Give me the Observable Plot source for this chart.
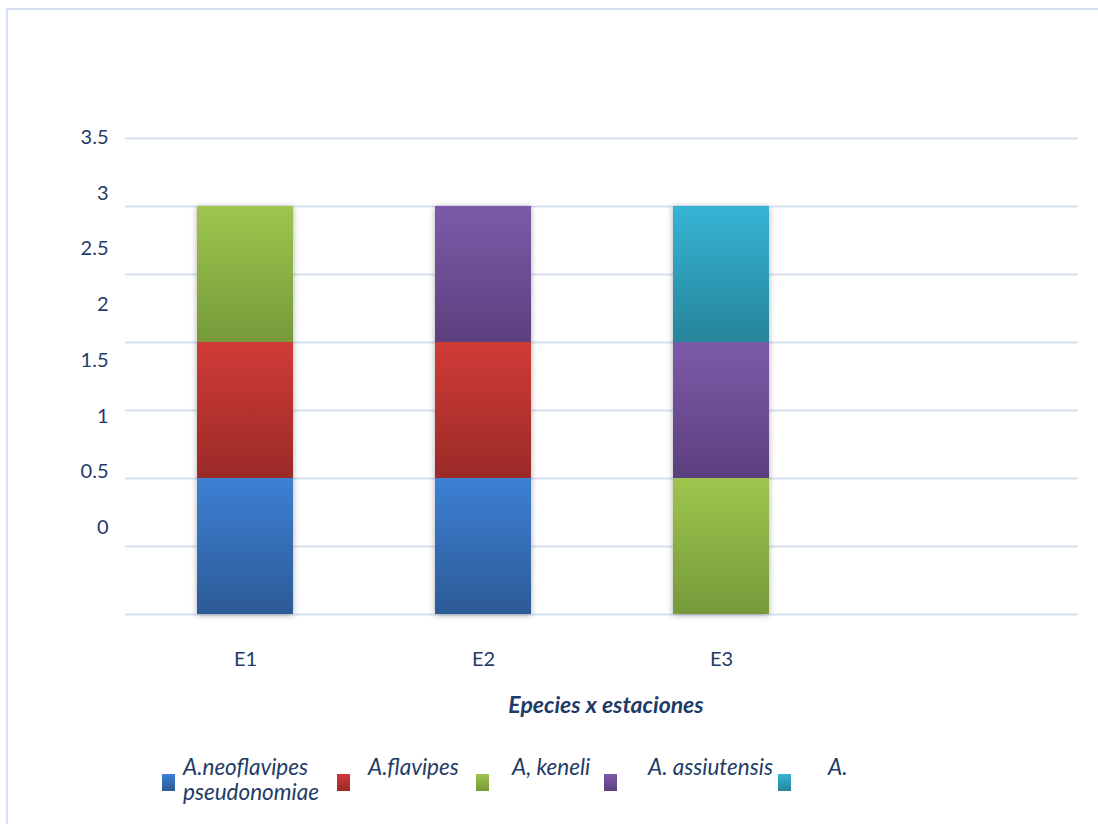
<!DOCTYPE html>
<html>
<head>
<meta charset="utf-8">
<script src="https://cdn.jsdelivr.net/npm/d3@7"></script>
<script src="https://cdn.jsdelivr.net/npm/@observablehq/plot@0.6"></script>
<style>
  html, body { margin: 0; padding: 0; background: #ffffff; }
  body { width: 1098px; height: 824px; overflow: hidden; position: relative; font-family: Lato, "Open Sans", sans-serif; }
  #frame { position: absolute; left: 6px; top: 8px; width: 1200px; height: 900px; border: 2px solid #d6e2f3; box-sizing: border-box; pointer-events: none; }
  #chart svg { display: block; }
  g[aria-label="bar"] { filter: drop-shadow(0px 1px 3px rgba(0,0,0,0.32)); }
  #legend { position: relative; width: 1098px; height: 84px; }
  .sw { position: absolute; width: 13px; height: 17px; top: 34px; }
  .lt { position: absolute; top: 14px; font-size: 22.5px; line-height: 25px; font-style: italic; color: #1f3b67; }
</style>
</head>
<body>
<div id="chart"></div>
<div id="legend"></div>
<div id="frame"></div>
<script>
// ---- data ----
const stations = ["E1", "E2", "E3"];
const species = ["A.neoflavipes pseudonomiae", "A.flavipes", "A, keneli", "A. assiutensis", "A."];
const neoflavipes = [1, 1, 0];
const flavipes    = [1, 1, 0];
const keneli      = [1, 0, 1];
const assiutensis = [0, 1, 1];
const aSp         = [0, 0, 1];
const yTicks = [0, 0.5, 1, 1.5, 2, 2.5, 3, 3.5];
const xTitle = "Epecies x estaciones";

// ---- styles ----
const topColors    = ["#3d80d4", "#d13b37", "#9ec54c", "#7d5aa9", "#37b4d6"];
const bottomColors = ["#2c5a95", "#9a2a27", "#76993a", "#5c3f7e", "#25859a"];
const textColor = "#1f3b67";

const seriesValues = [neoflavipes, flavipes, keneli, assiutensis, aSp];
const rows = [];
species.forEach((s, k) => {
  stations.forEach((st, i) => {
    const v = seriesValues[k][i];
    if (v > 0) rows.push({station: st, species: s, value: v, k});
  });
});

// y tick labels drift relative to gridlines in the reference
const labelDy = t => -87 + 12.3 * (t / 0.5);

const svg = Plot.plot({
  width: 1098,
  height: 740,
  marginLeft: 125,
  marginRight: 20,
  marginTop: 138,
  marginBottom: 126,
  x: {domain: [...stations, ""], paddingInner: 0.597, paddingOuter: 0.2985},
  y: {domain: [0, 3.5]},
  color: {type: "identity"},
  style: {fontFamily: "Lato, 'Open Sans', sans-serif", color: textColor, background: "transparent", overflow: "visible"},
  marks: [
    Plot.gridY(yTicks, {stroke: "#d5e0f1", strokeOpacity: 1, strokeWidth: 2}),
    ...yTicks.map(t => Plot.axisY([t], {tickSize: 0, tickPadding: 17, dy: labelDy(t), fontSize: 20, fill: textColor, label: null, tickFormat: d => String(d)})),
    Plot.axisX({tickSize: 0, tickPadding: 37, fontSize: 20, fill: textColor, label: null}),
    Plot.barY(rows, Plot.stackY({x: "station", y: "value", z: "species", fill: d => `url(#grad${d.k})`})),
    Plot.text([xTitle], {frameAnchor: "bottom", dy: 98, dx: 4, fontSize: 23, fontWeight: "bold", fontStyle: "italic", fill: textColor})
  ]
});

// gradients
const ns = "http://www.w3.org/2000/svg";
const defs = document.createElementNS(ns, "defs");
topColors.forEach((c, k) => {
  const g = document.createElementNS(ns, "linearGradient");
  g.setAttribute("id", "grad" + k);
  g.setAttribute("x1", "0"); g.setAttribute("y1", "0");
  g.setAttribute("x2", "0"); g.setAttribute("y2", "1");
  const s1 = document.createElementNS(ns, "stop");
  s1.setAttribute("offset", "0"); s1.setAttribute("stop-color", c);
  const s2 = document.createElementNS(ns, "stop");
  s2.setAttribute("offset", "1"); s2.setAttribute("stop-color", bottomColors[k]);
  g.appendChild(s1); g.appendChild(s2);
  defs.appendChild(g);
});
svg.insertBefore(defs, svg.firstChild);
document.getElementById("chart").appendChild(svg);

// legend
const swatchLeft = [162, 337, 476, 604, 778];
const textLeft   = [183, 368, 512, 648, 828];
const legend = document.getElementById("legend");
species.forEach((s, k) => {
  const sw = document.createElement("div");
  sw.className = "sw";
  sw.style.left = swatchLeft[k] + "px";
  sw.style.background = `linear-gradient(${topColors[k]}, ${bottomColors[k]})`;
  legend.appendChild(sw);
  const t = document.createElement("div");
  t.className = "lt";
  t.style.left = textLeft[k] + "px";
  if (k === 0) t.style.width = "150px";
  t.textContent = s;
  legend.appendChild(t);
});
</script>
</body>
</html>
